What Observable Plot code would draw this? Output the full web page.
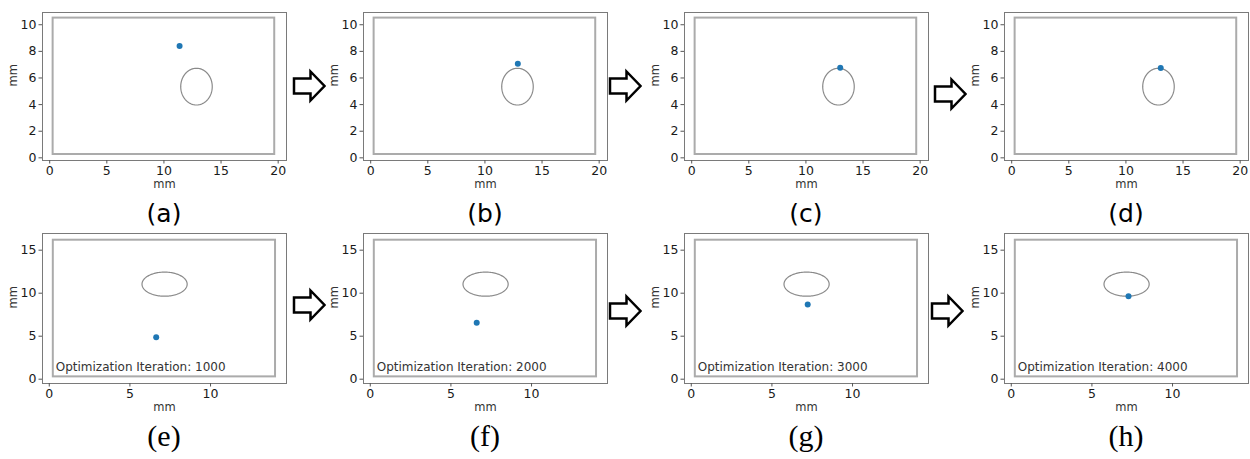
<!DOCTYPE html>
<html>
<head>
<meta charset="utf-8">
<script src="https://cdn.jsdelivr.net/npm/d3@7"></script>
<script src="https://cdn.jsdelivr.net/npm/@observablehq/plot@0.6"></script>
<style>
  html, body { margin: 0; padding: 0; background: #fff; }
  #root { position: relative; width: 1250px; height: 459px; overflow: hidden; background: #fff; }
  .panel { position: absolute; }
  #overlay { position: absolute; left: 0; top: 0; pointer-events: none; }
</style>
</head>
<body>
<div id="root"></div>
<script>
// ---- data ----
const topLabels = ["(a)", "(b)", "(c)", "(d)"];
const bottomLabels = ["(e)", "(f)", "(g)", "(h)"];
const iterations = [1000, 2000, 3000, 4000];

const topDotX = [11.37, 12.88, 13.0, 13.05];
const topDotY = [8.4, 7.07, 6.77, 6.75];
const bottomDotX = [6.63, 6.6, 7.22, 7.27];
const bottomDotY = [4.88, 6.55, 8.69, 9.65];

const topCircle = [12.85, 5.35, 1.38];      // cx, cy, r (mm)
const bottomCircle = [7.15, 11.05, 1.4];

const topRect = [0.3, 0.25, 19.7, 10.5];    // x1, y1, x2, y2 (mm)
const bottomRect = [0.25, 0.27, 14.03, 16.16];

const topXDomain = [-0.63, 20.73];
const topYDomain = [-0.2, 10.92];
const bottomXDomain = [-0.42, 14.71];
const bottomYDomain = [-0.5, 16.94];

const topXTicks = [0, 5, 10, 15, 20];
const topYTicks = [0, 2, 4, 6, 8, 10];
const bottomXTicks = [0, 5, 10];
const bottomYTicks = [0, 5, 10, 15];

// ---- layout ----
const panelLefts = [0, 321, 642, 962];
const rowTops = [0, 221];
const arrows = [[294, 86], [610, 86], [935, 94], [294, 305], [610, 311], [932, 311]];

function circlePoints([cx, cy, r]) {
  const n = 120, pts = [];
  for (let i = 0; i <= n; i++) {
    const t = (i / n) * 2 * Math.PI;
    pts.push({x: cx + r * Math.cos(t), y: cy + r * Math.sin(t)});
  }
  return pts;
}

function panel({xDomain, yDomain, xTicks, yTicks, rect, circle, dotX, dotY, frameH, caption}) {
  const marks = [
    Plot.frame({stroke: "#7a7a7a", strokeWidth: 1}),
    Plot.rect([rect], {x1: d => d[0], y1: d => d[1], x2: d => d[2], y2: d => d[3],
      fill: "none", stroke: "#ababab", strokeWidth: 2}),
    Plot.line(circlePoints(circle), {x: "x", y: "y", stroke: "#8a8a8a", strokeWidth: 1.2}),
    Plot.dot([[dotX, dotY]], {x: d => d[0], y: d => d[1], r: 3, fill: "#1f77b4", stroke: "none"}),
    Plot.axisX({ticks: xTicks, tickSize: 3.5, tickPadding: 2.5, stroke: "#555", fill: "#1a1a1a",
      label: null, fontSize: 12.5}),
    Plot.axisY({ticks: yTicks, tickSize: 3.5, tickPadding: 2.5, stroke: "#555", fill: "#1a1a1a",
      label: null, fontSize: 12.5}),
    Plot.text(["mm"], {frameAnchor: "bottom", dy: 27.5, fontSize: 11.5, fill: "#333"}),
    Plot.text(["mm"], {frameAnchor: "left", dx: -29, rotate: -90, fontSize: 11.5, fill: "#333"})
  ];
  if (caption) {
    marks.push(Plot.text([caption], {x: 0.4, y: 1.45, textAnchor: "start", fontSize: 12, fill: "#333"}));
  }
  return Plot.plot({
    width: 292, height: 12 + frameH + 40,
    marginLeft: 42, marginRight: 6, marginTop: 12, marginBottom: 40,
    style: {fontFamily: "DejaVu Sans", fontSize: "12.5px", background: "transparent", overflow: "visible"},
    x: {domain: xDomain},
    y: {domain: yDomain},
    marks
  });
}

const root = document.getElementById("root");
for (let i = 0; i < 4; i++) {
  const p = panel({xDomain: topXDomain, yDomain: topYDomain, xTicks: topXTicks, yTicks: topYTicks,
    rect: topRect, circle: topCircle, dotX: topDotX[i], dotY: topDotY[i], frameH: 148});
  p.classList.add("panel");
  p.style.left = panelLefts[i] + "px";
  p.style.top = rowTops[0] + "px";
  root.appendChild(p);
  const q = panel({xDomain: bottomXDomain, yDomain: bottomYDomain, xTicks: bottomXTicks, yTicks: bottomYTicks,
    rect: bottomRect, circle: bottomCircle, dotX: bottomDotX[i], dotY: bottomDotY[i], frameH: 150,
    caption: "Optimization Iteration: " + iterations[i]});
  q.classList.add("panel");
  q.style.left = panelLefts[i] + "px";
  q.style.top = rowTops[1] + "px";
  root.appendChild(q);
}

// overlay: arrows and sub-figure labels
const ns = "http://www.w3.org/2000/svg";
const ov = document.createElementNS(ns, "svg");
ov.setAttribute("id", "overlay");
ov.setAttribute("width", 1250);
ov.setAttribute("height", 459);
for (const [x0, yc] of arrows) {
  const pts = [[x0, yc - 7.5], [x0 + 16.5, yc - 7.5], [x0 + 16.5, yc - 14.5], [x0 + 30.5, yc],
    [x0 + 16.5, yc + 14.5], [x0 + 16.5, yc + 7.5], [x0, yc + 7.5]];
  const pg = document.createElementNS(ns, "polygon");
  pg.setAttribute("points", pts.map(p => p.join(",")).join(" "));
  pg.setAttribute("fill", "#fff");
  pg.setAttribute("stroke", "#000");
  pg.setAttribute("stroke-width", 2.5);
  ov.appendChild(pg);
}
for (let i = 0; i < 4; i++) {
  const cx = panelLefts[i] + 42 + 122;
  const t1 = document.createElementNS(ns, "text");
  t1.setAttribute("x", cx); t1.setAttribute("y", 222);
  t1.setAttribute("text-anchor", "middle");
  t1.setAttribute("font-family", "DejaVu Sans");
  t1.setAttribute("font-size", 25);
  t1.setAttribute("fill", "#000");
  t1.textContent = topLabels[i];
  ov.appendChild(t1);
  const t2 = document.createElementNS(ns, "text");
  t2.setAttribute("x", cx); t2.setAttribute("y", 446);
  t2.setAttribute("text-anchor", "middle");
  t2.setAttribute("font-family", "Liberation Serif");
  t2.setAttribute("font-size", 30);
  t2.setAttribute("fill", "#000");
  t2.textContent = bottomLabels[i];
  ov.appendChild(t2);
}
root.appendChild(ov);
</script>
</body>
</html>
